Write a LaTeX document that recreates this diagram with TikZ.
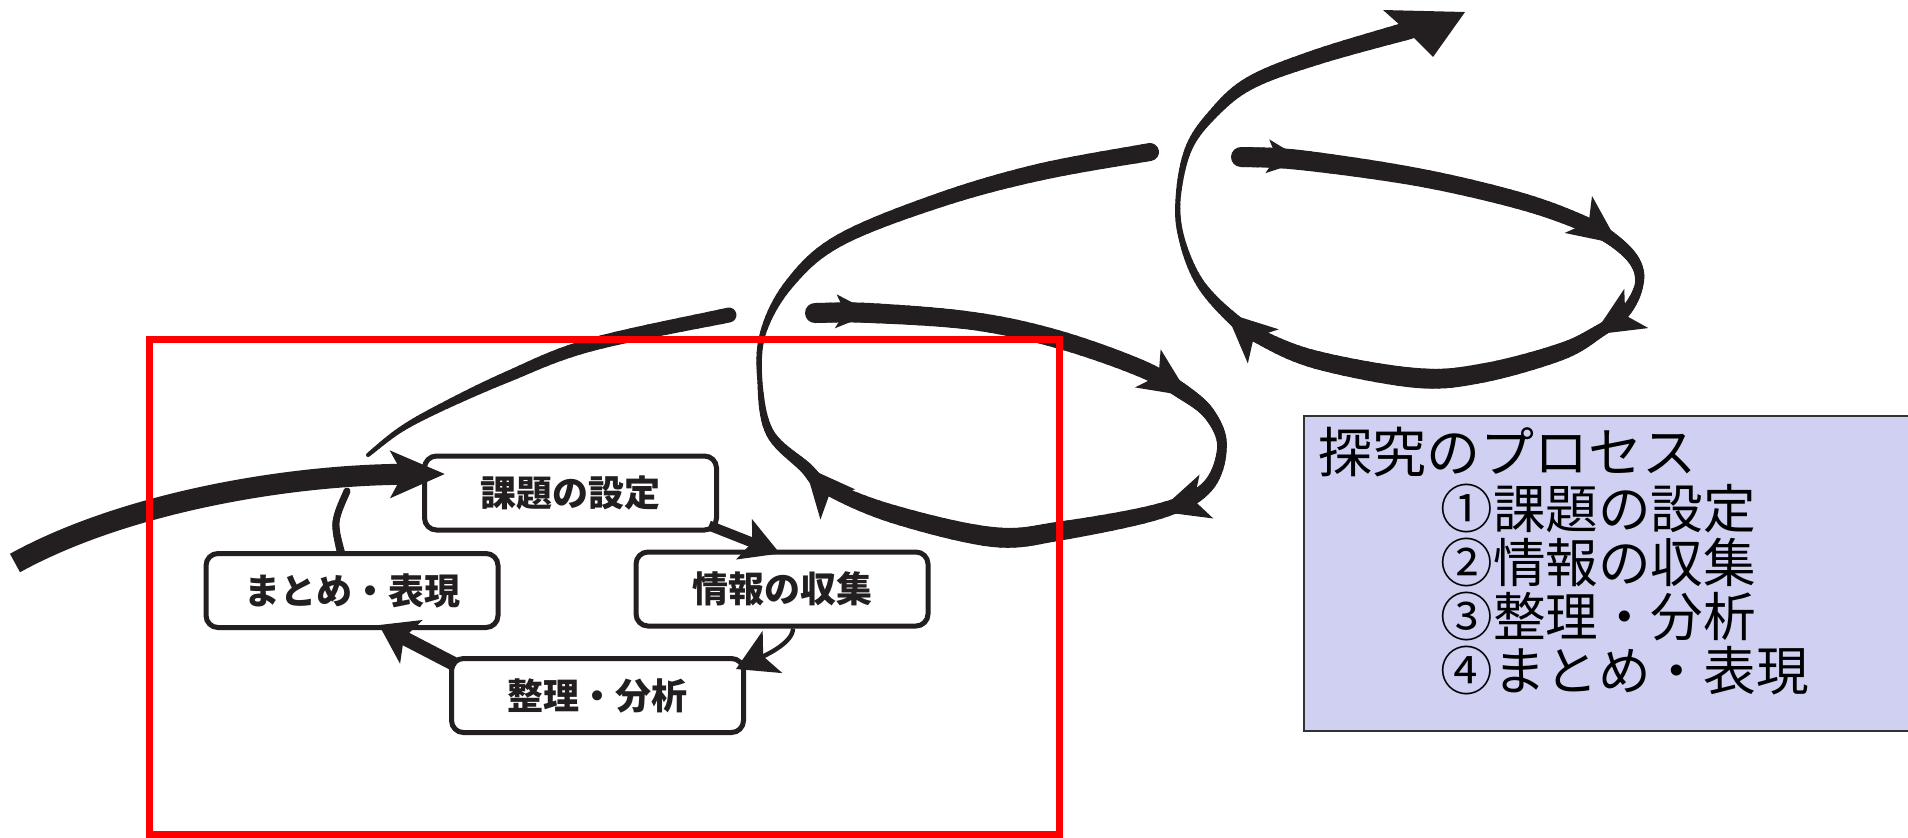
\documentclass[tikz,border=0pt]{standalone}
\usepackage{fontspec}
\newfontfamily\jp{Noto Sans CJK JP}
\usetikzlibrary{decorations.markings,arrows.meta,calc}
\definecolor{inkcol}{RGB}{35,31,32}
\definecolor{legfill}{RGB}{208,209,242}
\definecolor{legline}{RGB}{50,50,50}
% tapered Catmull-Rom stroke: #1 X array, #2 Y array, #3 width array (px), #4 number of points
\newcommand\taperstroke[4]{%
  \pgfmathtruncatemacro\nseg{#4-1}%
  \foreach \i in {1,...,\nseg}{%
    \pgfmathsetmacro\xo{#1[\i-1]}\pgfmathsetmacro\xp{#1[\i]}\pgfmathsetmacro\xq{#1[\i+1]}\pgfmathsetmacro\xr{#1[\i+2]}%
    \pgfmathsetmacro\yo{#2[\i-1]}\pgfmathsetmacro\yp{#2[\i]}\pgfmathsetmacro\yq{#2[\i+1]}\pgfmathsetmacro\yr{#2[\i+2]}%
    \pgfmathsetmacro\wp{#3[\i]}\pgfmathsetmacro\wq{#3[\i+1]}%
    \pgfmathsetmacro\bx{0.5*(\xq-\xo)}\pgfmathsetmacro\cx{0.5*(2*\xo-5*\xp+4*\xq-\xr)}\pgfmathsetmacro\dx{0.5*(3*\xp-\xo-3*\xq+\xr)}%
    \pgfmathsetmacro\by{0.5*(\yq-\yo)}\pgfmathsetmacro\cy{0.5*(2*\yo-5*\yp+4*\yq-\yr)}\pgfmathsetmacro\dy{0.5*(3*\yp-\yo-3*\yq+\yr)}%
    \foreach \s in {0,...,9}{%
      \pgfmathsetmacro\ta{\s/10}\pgfmathsetmacro\tb{(\s+1)/10}%
      \pgfmathsetmacro\xa{\xp+\bx*\ta+\cx*\ta*\ta+\dx*\ta*\ta*\ta}%
      \pgfmathsetmacro\ya{\yp+\by*\ta+\cy*\ta*\ta+\dy*\ta*\ta*\ta}%
      \pgfmathsetmacro\xb{\xp+\bx*\tb+\cx*\tb*\tb+\dx*\tb*\tb*\tb}%
      \pgfmathsetmacro\yb{\yp+\by*\tb+\cy*\tb*\tb+\dy*\tb*\tb*\tb}%
      \pgfmathsetmacro\ww{\wp+(\wq-\wp)*(\s+0.5)/10}%
      \draw[inkcol, line width=\ww*0.5pt, line cap=round] (\xa,\ya) -- (\xb,\yb);
    }%
  }%
}
\tikzset{
  headat/.style={postaction={decorate,decoration={markings,
    mark=at position #1 with {\fill[inkcol] (6,0) -- (-44,23) -- (-31,0) -- (-44,-23) -- cycle;}}}},
  barbat/.style={postaction={decorate,decoration={markings,
    mark=at position #1 with {\fill[inkcol] (3,0) -- (-34,17) -- (-25,0) -- (-34,-17) -- cycle;}}}},
  box/.style={draw=inkcol, line width=2.5pt, rounded corners=6pt, fill=white,
    minimum width=146pt, minimum height=37pt, inner sep=0pt,
    font=\jp\bfseries\fontsize{18pt}{20pt}\selectfont, text=inkcol},
  legtext/.style={font=\jp\fontsize{26.3pt}{30pt}\selectfont, inner sep=0pt, anchor=west, text=black},
  boxarrow/.style={draw=inkcol, line cap=butt},
}
\def\AaX{{341,341,336,347,347}}
\def\AaY{{553,553,522,491,491}}
\def\AaW{{8,8,7,7,7}}
\def\AbX{{368,368,400,440,507,590,729,729}}
\def\AbY{{455,455,430,408,377,345,315,315}}
\def\AbW{{4,4,5.5,7.5,11,13,15,15}}
\def\LbX{{815,815,870,973,1057,1140,1183,1210,1222,1207,1160,1060,993,893,827,805,770,760,763,790,840,940,1040,1150,1150}}
\def\LbY{{313,313,313,321,339,368,392,415,447,487,511,531,537,514,487,467,433,383,333,283,240,200,172,152,152}}
\def\LbW{{20,20,20,18,18,17,15.5,12,9.5,12,15.5,19,20,18,14.5,12,8.5,5,6,9.5,12,14.5,17,18,18}}
\def\LcX{{1241,1241,1300,1417,1517,1580,1613,1635,1639,1625,1598,1560,1483,1417,1317,1260,1232,1200,1182,1178,1188,1212,1250,1317,1410,1410}}
\def\LcY{{157,157,160,177,200,222,240,262,285,312,332,352,373,378,360,337,318,283,240,200,150,115,83,57,30,30}}
\def\LcW{{20,20,20,18,17,15.5,13,11,8.5,11,13,17,19,20,18,14.5,12,8.5,6,5,7,9.5,13,15.5,18,18}}
\begin{document}
\begin{tikzpicture}[x=0.5pt,y=-0.5pt]
\useasboundingbox (0,0) rectangle (1908,837);
\fill[white] (0,0) rectangle (1908,837);

% ---- tapered strokes of the spiral
\taperstroke{\AaX}{\AaY}{\AaW}{3}
\taperstroke{\AbX}{\AbY}{\AbW}{6}
\taperstroke{\LbX}{\LbY}{\LbW}{23}
\taperstroke{\LcX}{\LcY}{\LcW}{24}

% ---- arrowheads along the loops (same Catmull-Rom curves, invisible)
\foreach \x/\y [count=\c] in {815/313, 870/313, 973/321, 1057/339, 1140/368, 1183/392, 1210/415, 1222/447, 1207/487, 1160/511, 1060/531, 993/537, 893/514, 827/487, 805/467, 770/433, 760/383, 763/333, 790/283, 840/240, 940/200, 1040/172, 1150/152} {\coordinate (Pc-\c) at (\x,\y);}
\coordinate (Pc-0) at (Pc-1); \coordinate (Pc-24) at (Pc-23);
\foreach \x/\y [count=\c] in {1241/157, 1300/160, 1417/177, 1517/200, 1580/222, 1613/240, 1635/262, 1639/285, 1625/312, 1598/332, 1560/352, 1483/373, 1417/378, 1317/360, 1260/337, 1232/318, 1200/283, 1182/240, 1178/200, 1188/150, 1212/115, 1250/83, 1317/57, 1410/30} {\coordinate (Pd-\c) at (\x,\y);}
\coordinate (Pd-0) at (Pd-1); \coordinate (Pd-25) at (Pd-24);
\path[barbat=0.036, headat=0.252, headat=0.358, headat=0.603]
  (Pc-1) foreach \i [evaluate=\i as \ip using int(\i+1), evaluate=\i as \im using int(\i-1), evaluate=\i as \ipp using int(\i+2)] in {1,...,22}
  { .. controls ($(Pc-\i)+0.1667*(Pc-\ip)-0.1667*(Pc-\im)$) and ($(Pc-\ip)-0.1667*(Pc-\ipp)+0.1667*(Pc-\i)$) .. (Pc-\ip) };
\path[barbat=0.045, headat=0.288, headat=0.376, headat=0.667]
  (Pd-1) foreach \i [evaluate=\i as \ip using int(\i+1), evaluate=\i as \im using int(\i-1), evaluate=\i as \ipp using int(\i+2)] in {1,...,23}
  { .. controls ($(Pd-\i)+0.1667*(Pd-\ip)-0.1667*(Pd-\im)$) and ($(Pd-\ip)-0.1667*(Pd-\ipp)+0.1667*(Pd-\i)$) .. (Pd-\ip) };
\fill[inkcol] (1465,12) -- (1383,10) -- (1410,34) -- (1433,57) -- cycle;

% ---- boxes
\node[box] (kadai) at (570.5,493) {課題の設定};
\node[box] (joho) at (782,589) {情報の収集};
\node[box] (matome) at (352,590.5) {まとめ・表現};
\node[box] (seiri) at (597.5,695.5) {整理・分析};

% ---- cycle arrows
\draw[boxarrow, line width=5pt, -{Stealth[length=19pt,width=21pt,inset=4pt]}]
  ($(kadai.south east)+(-10,-7)$) -- ($(joho.north)+(-2,4)$);
\draw[boxarrow, line width=2.2pt, -{Stealth[length=20pt,width=23pt,inset=5pt]}]
  ($(joho.south)+(11,0)$) .. controls +(0,14) and +(30,-14) .. ($(seiri.north east)+(-10,13)$);
\draw[boxarrow, line width=7pt, -{Stealth[length=18pt,width=24pt,inset=4pt]}]
  ($(seiri.north west)+(7,9)$) -- ($(matome.south)+(27,-5)$);

% ---- entry arrow
\coordinate (entry) at (15,563);
\draw[boxarrow, line width=10.5pt, -{Stealth[length=27pt,width=23pt,inset=6pt]}]
  (entry) .. controls (120,505) and (280,475) .. ($(kadai.west)+(23,-19)$);

% ---- red frame
\draw[red, line width=3.5pt] (149.5,339.5) rectangle (1059,834);

% ---- legend
\draw[legline, fill=legfill, line width=1pt] (1304,416) rectangle (1912,731);
\node[legtext, font=\jp\fontsize{27pt}{30pt}\selectfont] (l0) at (1318,452) {探究のプロセス};
\node[legtext] (l1) at (1440,508) {①課題の設定};
\node[legtext] (l2) at (1440,562) {②情報の収集};
\node[legtext] (l3) at (1440,616) {③整理・分析};
\node[legtext] (l4) at (1440,670) {④まとめ・表現};
\end{tikzpicture}
\end{document}
